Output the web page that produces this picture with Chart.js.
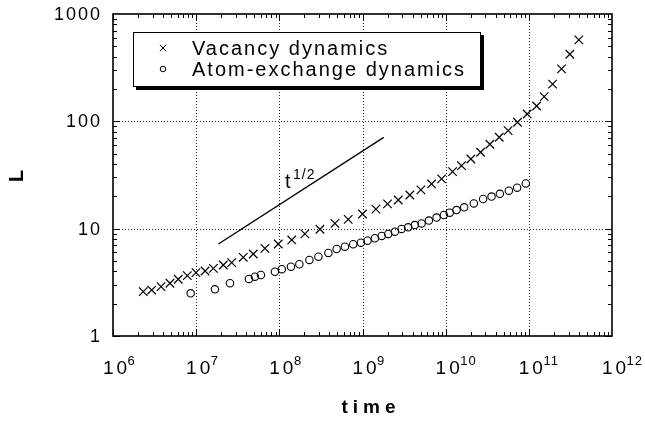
<!DOCTYPE html>
<html>
<head>
<meta charset="utf-8">
<script src="https://cdn.jsdelivr.net/npm/chart.js@4.4.0/dist/chart.umd.min.js"></script>
<style>
  html, body { margin: 0; padding: 0; background: #fff; }
</style>
</head>
<body>
<canvas id="chart" width="645" height="422"></canvas>
<script>
// domain size L vs. time, log-log
const vacancyTime = [2.31e6, 2.92e6, 3.78e6, 4.84e6, 6.09e6, 7.82e6, 9.94e6, 1.28e7, 1.61e7, 2.12e7,
  2.67e7, 3.68e7, 4.86e7, 6.71e7, 9.70e7, 1.41e8, 2.03e8, 3.08e8, 4.66e8, 6.73e8,
  1.00e9, 1.45e9, 2.00e9, 2.69e9, 3.71e9, 5.04e9, 6.77e9, 8.93e9, 1.21e10, 1.55e10,
  2.01e10, 2.63e10, 3.40e10, 4.40e10, 5.64e10, 7.31e10, 9.55e10, 1.24e11, 1.53e11, 1.93e11,
  2.47e11, 3.11e11, 3.99e11];
const vacancyL = [2.59, 2.68, 2.88, 3.10, 3.38, 3.65, 3.89, 4.03, 4.27, 4.59,
  4.82, 5.41, 5.81, 6.56, 7.20, 7.85, 8.93, 9.87, 11.2, 12.2,
  13.7, 15.2, 17.0, 18.5, 20.6, 23.0, 26.1, 29.1, 34.0, 38.6,
  44.6, 51.5, 61.2, 71.1, 81.9, 98.1, 117, 139, 170, 222,
  308, 422, 574];

const exchangeTime = [8.59e6, 1.68e7, 2.55e7, 4.31e7, 5.09e7, 6.01e7, 8.85e7, 1.07e8, 1.38e8, 1.74e8,
  2.30e8, 2.95e8, 3.89e8, 4.89e8, 6.14e8, 7.73e8, 9.57e8, 1.15e9, 1.41e9, 1.70e9,
  2.04e9, 2.45e9, 2.95e9, 3.54e9, 4.26e9, 5.13e9, 6.28e9, 7.78e9, 9.51e9, 1.12e10,
  1.35e10, 1.67e10, 2.18e10, 2.82e10, 3.56e10, 4.48e10, 5.75e10, 7.23e10, 9.20e10];
const exchangeL = [2.50, 2.72, 3.10, 3.40, 3.57, 3.70, 3.97, 4.19, 4.42, 4.66,
  5.11, 5.48, 5.94, 6.47, 6.80, 7.16, 7.41, 7.73, 8.14, 8.55,
  8.93, 9.38, 9.94, 10.3, 10.8, 11.2, 11.9, 12.7, 13.4, 14.1,
  14.9, 15.8, 17.2, 18.9, 19.9, 21.1, 22.6, 24.1, 26.4];

// reference slope line
const slopeTime = [1.85e7, 1.8e9];
const slopeL = [7.2, 71];

const seriesNames = ['Vacancy dynamics', 'Atom-exchange dynamics'];
const xExponents = [6, 7, 8, 9, 10, 11, 12];
const yTickLabels = ['1', '10', '100', '1000'];

const toPoints = (xs, ys) => xs.map((x, i) => ({ x: x, y: ys[i] }));

const FONT = '"Liberation Sans", Arial, Helvetica, sans-serif';

const axesPlugin = {
  id: 'axesPlugin',
  beforeDatasetsDraw(chart) {
    const { ctx, chartArea: a, scales: { x, y } } = chart;
    ctx.save();
    ctx.strokeStyle = '#222';
    ctx.lineWidth = 1;
    ctx.setLineDash([1, 2]);
    for (let e = 7; e <= 11; e++) {
      const px = Math.round(x.getPixelForValue(Math.pow(10, e))) + 0.5;
      ctx.beginPath(); ctx.moveTo(px, a.top); ctx.lineTo(px, a.bottom); ctx.stroke();
    }
    for (let e = 1; e <= 2; e++) {
      const py = Math.round(y.getPixelForValue(Math.pow(10, e))) + 0.5;
      ctx.beginPath(); ctx.moveTo(a.left, py); ctx.lineTo(a.right, py); ctx.stroke();
    }
    ctx.restore();
  },
  afterDatasetsDraw(chart) {
    const { ctx, chartArea: a, scales: { x, y } } = chart;
    ctx.save();
    ctx.strokeStyle = '#000';
    ctx.fillStyle = '#000';

    // frame
    ctx.lineWidth = 1.6;
    ctx.strokeRect(a.left, a.top, a.right - a.left, a.bottom - a.top);

    // inward tick marks on all four sides
    ctx.lineWidth = 1;
    ctx.beginPath();
    for (let e = 6; e < 12; e++) {
      for (let m = 1; m < 10; m++) {
        const px = Math.round(x.getPixelForValue(m * Math.pow(10, e))) + 0.5;
        const len = m === 1 ? 7 : 4;
        ctx.moveTo(px, a.bottom); ctx.lineTo(px, a.bottom - len);
        ctx.moveTo(px, a.top); ctx.lineTo(px, a.top + len);
      }
    }
    for (let e = 0; e < 3; e++) {
      for (let m = 1; m < 10; m++) {
        const py = Math.round(y.getPixelForValue(m * Math.pow(10, e))) + 0.5;
        const len = m === 1 ? 7 : 4;
        ctx.moveTo(a.left, py); ctx.lineTo(a.left + len, py);
        ctx.moveTo(a.right, py); ctx.lineTo(a.right - len, py);
      }
    }
    ctx.stroke();

    // y tick labels
    ctx.letterSpacing = '2px';
    ctx.font = '18px ' + FONT;
    ctx.textAlign = 'right';
    ctx.textBaseline = 'alphabetic';
    yTickLabels.forEach(lbl => {
      const py = y.getPixelForValue(Number(lbl));
      ctx.fillText(lbl, a.left - 11, py + 6);
    });

    // x tick labels as 10 with superscript exponent
    xExponents.forEach(e => {
      const px = x.getPixelForValue(Math.pow(10, e)) + 2;
      ctx.font = '19px ' + FONT;
      ctx.letterSpacing = '3px';
      ctx.textAlign = 'center';
      const w = ctx.measureText('10').width;
      ctx.fillText('10', px + 1.5, a.bottom + 38);
      ctx.font = '13px ' + FONT;
      ctx.letterSpacing = '1px';
      ctx.textAlign = 'left';
      ctx.fillText(String(e), px + w / 2 - 1, a.bottom + 29);
    });

    // axis titles
    ctx.font = 'bold 19px ' + FONT;
    ctx.letterSpacing = '5px';
    ctx.textAlign = 'center';
    ctx.fillText('time', 371, 413);

    ctx.letterSpacing = '0px';
    ctx.save();
    ctx.translate(17, 176);
    ctx.rotate(-Math.PI / 2);
    ctx.font = 'bold 20px ' + FONT;
    ctx.textAlign = 'center';
    ctx.textBaseline = 'middle';
    ctx.fillText('L', 0, 0);
    ctx.restore();

    // slope label t^(1/2)
    ctx.textAlign = 'left';
    ctx.textBaseline = 'alphabetic';
    ctx.font = '20px ' + FONT;
    ctx.fillText('t', 285, 188);
    ctx.font = '14px ' + FONT;
    ctx.letterSpacing = '1px';
    ctx.fillText('1/2', 293, 179);

    // legend box with drop shadow
    const bx = 133, by = 32, bw = 347, bh = 54;
    ctx.fillStyle = '#000';
    ctx.fillRect(bx + 3, by + 3, bw + 1, bh + 1);
    ctx.fillStyle = '#fff';
    ctx.fillRect(bx, by, bw, bh);
    ctx.strokeStyle = '#000';
    ctx.lineWidth = 1;
    ctx.strokeRect(bx + 0.5, by + 0.5, bw, bh);

    const rows = [
      { style: 'crossRot', radius: 4.5, y: 48 },
      { style: 'circle', radius: 2.8, y: 69 }
    ];
    rows.forEach((r, i) => {
      ctx.strokeStyle = '#000';
      ctx.fillStyle = 'rgba(0,0,0,0)';
      Chart.helpers.drawPoint(ctx, { pointStyle: r.style, radius: r.radius, borderWidth: 1 }, 163, r.y);
      ctx.fillStyle = '#000';
      ctx.font = '20px ' + FONT;
      ctx.letterSpacing = '2px';
      ctx.textBaseline = 'middle';
      ctx.fillText(seriesNames[i], 192, r.y + 1);
    });
    ctx.restore();
  }
};

new Chart(document.getElementById('chart'), {
  type: 'scatter',
  data: {
    datasets: [
      {
        label: seriesNames[0],
        data: toPoints(vacancyTime, vacancyL),
        pointStyle: 'crossRot',
        pointRadius: 6,
        borderColor: '#000',
        borderWidth: 1.2
      },
      {
        label: seriesNames[1],
        data: toPoints(exchangeTime, exchangeL),
        pointStyle: 'circle',
        pointRadius: 3.7,
        backgroundColor: 'rgba(0,0,0,0)',
        borderColor: '#000',
        borderWidth: 1.1
      },
      {
        label: 't^1/2',
        data: toPoints(slopeTime, slopeL),
        showLine: true,
        pointRadius: 0,
        borderColor: '#000',
        borderWidth: 1.4
      }
    ]
  },
  options: {
    responsive: false,
    animation: false,
    events: [],
    layout: { padding: { left: 113, top: 14, right: 33, bottom: 86 } },
    scales: {
      x: { type: 'logarithmic', min: 1e6, max: 1e12, display: false },
      y: { type: 'logarithmic', min: 1, max: 1000, display: false }
    },
    plugins: {
      legend: { display: false },
      tooltip: { enabled: false }
    }
  },
  plugins: [axesPlugin]
});
</script>
</body>
</html>
